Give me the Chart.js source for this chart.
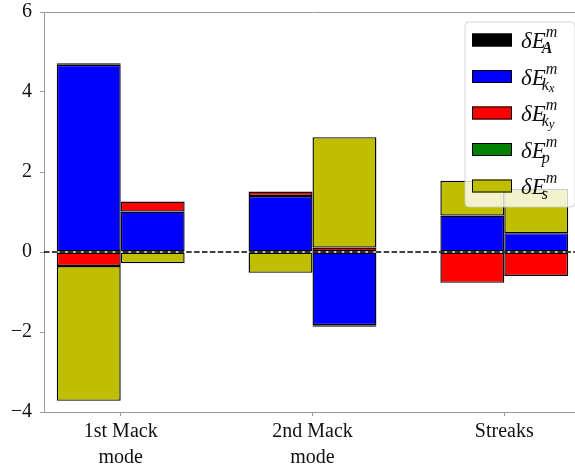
<!DOCTYPE html>
<html>
<head>
<meta charset="utf-8">
<script src="https://cdn.jsdelivr.net/npm/chart.js@4"></script>
<style>
  html, body { margin: 0; padding: 0; overflow: hidden; background: #fff; }
  #wrap { position: relative; width: 590px; height: 469px; }
</style>
</head>
<body>
<div id="wrap"><canvas id="c"></canvas></div>
<script>
// Energy budget components per mode (two bars per mode)
const categories = [['1st Mack', 'mode'], ['2nd Mack', 'mode'], ['Streaks']];
const yTicks = [-4, -2, 0, 2, 4, 6];

// first bar of each mode
const leftA  = [0.04, 0, 0];
const leftKx = [4.68, 1.40, 0.91];
const leftKy = [-0.35, 0.11, -0.77];
const leftP  = [0, 0, 0];
const leftS  = [-3.37, -0.52, 0.87];

// second bar of each mode
const rightA  = [0, 0, 0];
const rightKx = [1.01, -1.83, 0.47];
const rightKy = [0.25, 0.11, -0.60];
const rightP  = [0, -0.04, 0];
const rightS  = [-0.28, 2.76, 1.11];

const SERIF = '"Liberation Serif", "DejaVu Serif", serif';
const GREY = '#9a9a9a';

// legend order; stacking order is kx, ky, p, s, A
const components = {
  A:  { color: '#000000', sub: 'A', bold: true },
  kx: { color: '#0000ff', sub: 'k', subsub: 'x' },
  ky: { color: '#ff0000', sub: 'k', subsub: 'y' },
  p:  { color: '#008000', sub: 'p' },
  s:  { color: '#bfbf00', sub: 's' }
};
const legendOrder = ['A', 'kx', 'ky', 'p', 's'];
const stackOrder = ['kx', 'ky', 'p', 's', 'A'];

const leftSeries  = { A: leftA,  kx: leftKx,  ky: leftKy,  p: leftP,  s: leftS };
const rightSeries = { A: rightA, kx: rightKx, ky: rightKy, p: rightP, s: rightS };

function makeDatasets(series, stack) {
  return stackOrder.map(k => ({
    label: k,
    stack: stack,
    data: series[k].map((v, i) => ({ x: i, y: v })),
    backgroundColor: components[k].color,
    borderColor: '#000',
    borderWidth: 1.4,
    borderSkipped: false,
    categoryPercentage: 2 / 3,
    barPercentage: 1
  }));
}

function drawMath(ctx, x, yc, c) {
  ctx.fillStyle = '#111';
  ctx.textBaseline = 'alphabetic';
  ctx.textAlign = 'left';
  ctx.font = 'italic 23px ' + SERIF;
  ctx.fillText('\u03B4E', x, yc + 8);
  const w = ctx.measureText('\u03B4E').width;
  ctx.font = 'italic 16px ' + SERIF;
  ctx.fillText('m', x + w, yc - 3);
  ctx.font = (c.bold ? 'italic bold ' : 'italic ') + '16px ' + SERIF;
  ctx.fillText(c.sub, x + w - 4, yc + 13);
  if (c.subsub) {
    const ws = ctx.measureText(c.sub).width;
    ctx.font = 'italic 13px ' + SERIF;
    ctx.fillText(c.subsub, x + w - 4 + ws, yc + 15);
  }
}

function roundRect(ctx, x, y, w, h, r) {
  ctx.beginPath();
  ctx.moveTo(x + r, y);
  ctx.lineTo(x + w - r, y);
  ctx.quadraticCurveTo(x + w, y, x + w, y + r);
  ctx.lineTo(x + w, y + h - r);
  ctx.quadraticCurveTo(x + w, y + h, x + w - r, y + h);
  ctx.lineTo(x + r, y + h);
  ctx.quadraticCurveTo(x, y + h, x, y + h - r);
  ctx.lineTo(x, y + r);
  ctx.quadraticCurveTo(x, y, x + r, y);
  ctx.closePath();
}

const decor = {
  id: 'decor',
  afterDatasetsDraw(chart) {
    const { ctx, chartArea: a, scales: { y } } = chart;
    ctx.save();
    ctx.strokeStyle = GREY;
    ctx.lineWidth = 1;
    ctx.beginPath();
    ctx.moveTo(a.left, a.top + 0.5);
    ctx.lineTo(a.right, a.top + 0.5);
    ctx.moveTo(a.right - 0.5, a.top);
    ctx.lineTo(a.right - 0.5, a.bottom);
    ctx.stroke();
    const y0 = y.getPixelForValue(0);
    ctx.strokeStyle = '#000';
    ctx.lineWidth = 1.5;
    ctx.setLineDash([5.5, 2.4]);
    ctx.beginPath();
    ctx.moveTo(a.left, y0);
    ctx.lineTo(a.right, y0);
    ctx.stroke();
    ctx.restore();
  },
  afterDraw(chart) {
    const { ctx, chartArea: a } = chart;
    const bw = 110, bh = 185;
    const bx = a.right - 6 - bw, by = a.top + 10;
    ctx.save();
    roundRect(ctx, bx, by, bw, bh, 4);
    ctx.fillStyle = 'rgba(255,255,255,0.8)';
    ctx.fill();
    ctx.strokeStyle = 'rgba(204,204,204,0.8)';
    ctx.lineWidth = 1;
    ctx.stroke();
    legendOrder.forEach((k, i) => {
      const c = components[k];
      const yc = by + 18 + i * 36.5;
      ctx.fillStyle = c.color;
      ctx.fillRect(bx + 7, yc - 6.5, 40, 13);
      ctx.strokeStyle = '#000';
      ctx.lineWidth = 1;
      ctx.strokeRect(bx + 7.5, yc - 6, 39, 12);
      drawMath(ctx, bx + 56, yc, c);
    });
    ctx.restore();
  }
};

new Chart(document.getElementById('c'), {
  type: 'bar',
  data: {
    datasets: [...makeDatasets(leftSeries, 'first'), ...makeDatasets(rightSeries, 'second')]
  },
  options: {
    responsive: true,
    maintainAspectRatio: false,
    animation: false,
    devicePixelRatio: 1,
    layout: { padding: { top: 12, right: 9, left: 0, bottom: 0 } },
    plugins: { legend: { display: false }, tooltip: { enabled: false } },
    scales: {
      x: {
        type: 'linear',
        min: -0.4,
        max: 2.4,
        offset: false,
        stacked: true,
        afterBuildTicks: (scale) => { scale.ticks = categories.map((_, i) => ({ value: i })); },
        afterFit: (scale) => {
          scale.height = 57;
          scale.paddingLeft = 0;
          scale.paddingRight = 0;
        },
        grid: { offset: false, drawOnChartArea: false, drawTicks: true, tickLength: 4, color: GREY },
        border: { color: GREY, width: 1 },
        ticks: {
          autoSkip: false,
          maxRotation: 0,
          padding: 3,
          color: '#111',
          font: { family: SERIF, size: 20, lineHeight: 1.3 },
          callback: (v) => categories[Math.round(v)]
        }
      },
      y: {
        stacked: true,
        min: -4,
        max: 6,
        afterBuildTicks: (scale) => { scale.ticks = yTicks.map(v => ({ value: v })); },
        afterFit: (scale) => {
          scale.width = 44;
          scale.paddingTop = 0;
          scale.paddingBottom = 0;
        },
        grid: { drawOnChartArea: false, drawTicks: true, tickLength: 4, color: GREY },
        border: { color: GREY, width: 1 },
        ticks: {
          padding: 8,
          color: '#111',
          font: { family: SERIF, size: 20 },
          callback: (v) => (v < 0 ? '\u2212' + Math.abs(v) : String(v))
        }
      }
    }
  },
  plugins: [decor]
});
</script>
</body>
</html>
